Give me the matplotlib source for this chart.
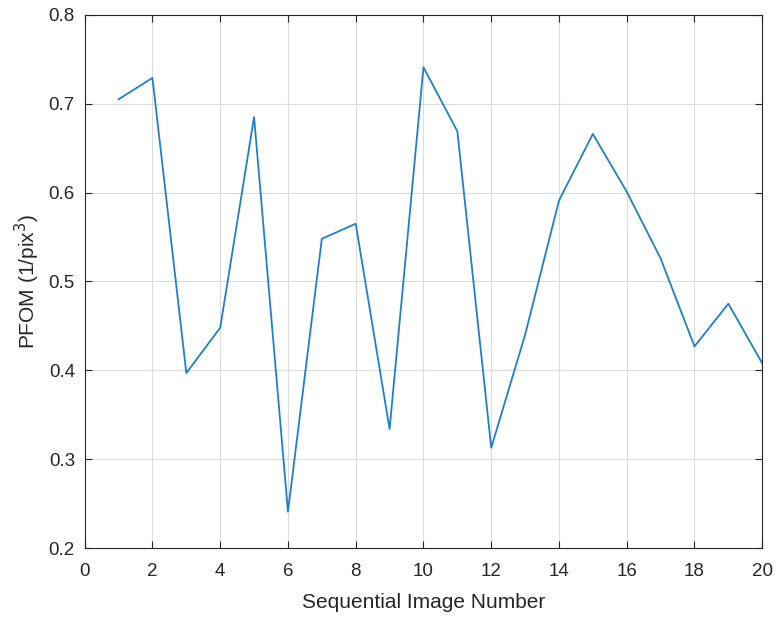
import numpy as np
import matplotlib
matplotlib.use("Agg")
import matplotlib.pyplot as plt

# PFOM per image
image_num = np.arange(1, 21)
pfom = [0.705, 0.729, 0.397, 0.448, 0.685, 0.241, 0.548, 0.565, 0.334, 0.741,
        0.669, 0.313, 0.440, 0.591, 0.666, 0.601, 0.526, 0.427, 0.475, 0.408]
x_ticks = np.arange(0, 21, 2)
y_ticks = [0.2, 0.3, 0.4, 0.5, 0.6, 0.7, 0.8]

plt.rcParams['font.family'] = ['Liberation Sans', 'DejaVu Sans']

fig = plt.figure(figsize=(7.77, 6.18), dpi=100)
ax = fig.add_axes([0.109, 0.113, 0.872, 0.863])

ax.plot(image_num, pfom, color='#1f80c8', linewidth=1.3)

ax.set_xlim(0, 20)
ax.set_ylim(0.2, 0.8)
ax.set_xticks(x_ticks)
ax.set_yticks(y_ticks)
ax.grid(True, color='#dcdcdc', linewidth=0.8)
ax.set_axisbelow(True)
ax.tick_params(direction='in', length=5, colors='#262626', labelsize=13.5,
               top=True, right=True, labeltop=False, labelright=False)
ax.tick_params(axis='x', pad=11)
ax.tick_params(axis='y', pad=7)
for s in ax.spines.values():
    s.set_color('#262626')
    s.set_linewidth(0.8)

ax.set_xlabel('Sequential Image Number', fontsize=15, color='#262626', labelpad=9)
ax.set_ylabel('PFOM (1/pix$^3$)', fontsize=15, color='#262626', labelpad=5)

fig.savefig('out.png', dpi=100)
